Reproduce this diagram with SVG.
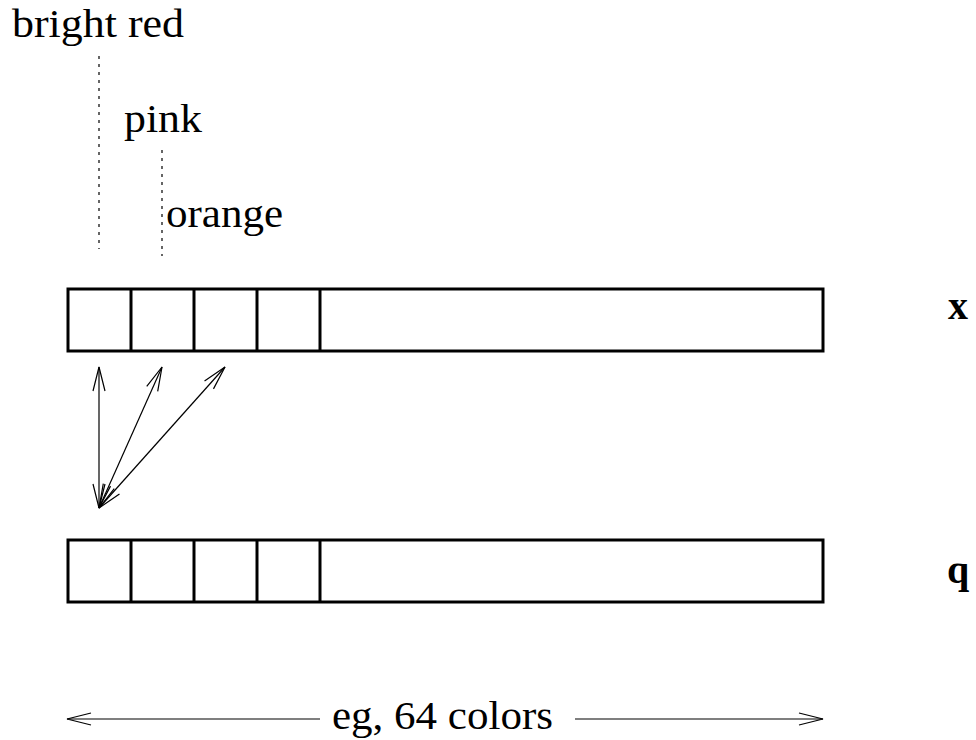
<svg xmlns="http://www.w3.org/2000/svg" width="976" height="740" viewBox="0 0 976 740">
<defs>
<style>
.t{font-family:"Liberation Serif","Times New Roman",serif;font-size:40px;fill:#000}
.b{font-family:"Liberation Serif","Times New Roman",serif;font-size:40px;font-weight:bold;fill:#000}
.box{fill:#fff;stroke:#000;stroke-width:3}
.cell{stroke:#000;stroke-width:3}
.dot{stroke:#000;stroke-width:1.2;stroke-dasharray:3 5;fill:none}
.arr{stroke:#000;stroke-width:1.2;fill:none;marker-start:url(#ah);marker-end:url(#ah)}
.arr1{stroke:#000;stroke-width:1.2;fill:none;marker-end:url(#ah)}
</style>
<marker id="ah" markerUnits="userSpaceOnUse" viewBox="0 0 26 14" refX="25" refY="7" markerWidth="26" markerHeight="14" orient="auto-start-reverse">
<path d="M1,1 L25,7 L1,13" fill="none" stroke="#000" stroke-width="1.2"/>
</marker>
</defs>
<rect width="976" height="740" fill="#fff"/>
<g id="labels">
<text class="t" x="12" y="37" textLength="172" lengthAdjust="spacingAndGlyphs">bright red</text>
<text class="t" x="124" y="132" textLength="78" lengthAdjust="spacingAndGlyphs">pink</text>
<text class="t" x="166" y="227" textLength="117" lengthAdjust="spacingAndGlyphs">orange</text>
<line class="dot" x1="99" y1="56" x2="99" y2="249"/>
<line class="dot" x1="162" y1="150" x2="162" y2="256"/>
</g>
<g id="x">
<rect class="box" x="68" y="289" width="755" height="62"/>
<line class="cell" x1="131" y1="289" x2="131" y2="351"/>
<line class="cell" x1="194" y1="289" x2="194" y2="351"/>
<line class="cell" x1="257" y1="289" x2="257" y2="351"/>
<line class="cell" x1="320" y1="289" x2="320" y2="351"/>
<text class="b" x="948" y="319">x</text>
</g>
<g id="q">
<rect class="box" x="68" y="540" width="755" height="62"/>
<line class="cell" x1="131" y1="540" x2="131" y2="602"/>
<line class="cell" x1="194" y1="540" x2="194" y2="602"/>
<line class="cell" x1="257" y1="540" x2="257" y2="602"/>
<line class="cell" x1="320" y1="540" x2="320" y2="602"/>
<text class="b" x="947" y="583">q</text>
</g>
<g id="connectors">
<line class="arr" x1="99" y1="508" x2="99" y2="367"/>
<line class="arr" x1="99" y1="508" x2="162" y2="367"/>
<line class="arr" x1="99" y1="508" x2="225" y2="367"/>
<line class="arr1" x1="320" y1="719" x2="67" y2="719"/>
<line class="arr1" x1="575" y1="719" x2="823" y2="719"/>
</g>
<g id="width-label">
<text class="t" x="332" y="729" textLength="221" lengthAdjust="spacingAndGlyphs">eg, 64 colors</text>
</g>
</svg>
